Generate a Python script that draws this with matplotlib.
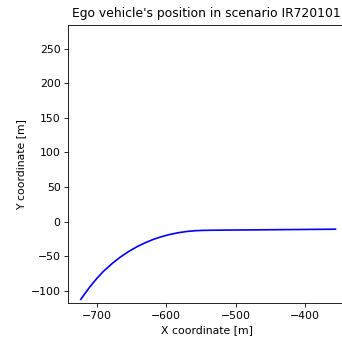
import matplotlib
matplotlib.use("Agg")
import matplotlib.pyplot as plt

x_coords = [-723, -716, -709.7, -700, -690.5, -678, -666.4, -654, -642.4, -630, -618.4, -606, -594.4, -582, -570.3, -558, -546.4, -534, -522, -500, -450, -400, -356]
y_coords = [-112, -102.3, -93.8, -82, -71.8, -60.5, -51.3, -43, -36.3, -30.3, -25.5, -21.4, -18.3, -15.8, -14.1, -13.0, -12.5, -12.3, -12.2, -12.0, -11.6, -11.2, -10.8]

title = "Ego vehicle's position in scenario IR720101"
xlabel = "X coordinate [m]"
ylabel = "Y coordinate [m]"

fig = plt.figure(figsize=(3.42, 3.40), dpi=100)
ax = fig.add_axes([68.3/342, 1 - 303.3/340, 278.3/342, 278.3/340])
ax.plot(x_coords, y_coords, color='blue', linewidth=1.2, solid_joinstyle='round')
ax.set_xlim(-741, -340)
ax.set_ylim(-117.8, 284)
ax.set_xticks([-700, -600, -500, -400])
ax.set_yticks([-100, -50, 0, 50, 100, 150, 200, 250])
ax.tick_params(labelsize=7.8, length=2.8, width=0.6, pad=2.7)
for s in ax.spines.values():
    s.set_linewidth(0.6)
ax.set_xlabel(xlabel, fontsize=7.8, labelpad=3)
ax.set_ylabel(ylabel, fontsize=7.8, labelpad=3)
fig.text(72/342, 1 - 14/340, title, ha='left', va='center', fontsize=8.9)
fig.savefig("out.png", dpi=100)
